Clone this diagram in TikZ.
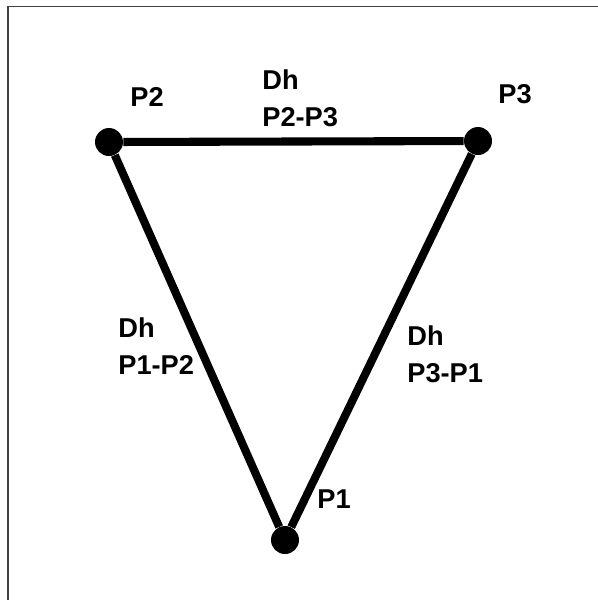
\documentclass[tikz,border=0pt]{standalone}
\usepackage{fontspec}
\setmainfont{Liberation Sans}
\usetikzlibrary{positioning}

\begin{document}
\begin{tikzpicture}[x=0.02cm, y=-0.02cm,
        point/.style={circle, fill=black, inner sep=0pt, minimum size=0.56cm},
        side/.style={line width=4.6pt, black},
        txt_label/.style={font=\fontsize{15.5}{21}\selectfont\bfseries, align=left, inner sep=0pt, anchor=west},
        txt_point/.style={font=\fontsize{15.5}{21}\selectfont\bfseries, inner sep=0pt},
        frame/.style={draw=black!75, line width=0.6pt}
    ]
    \useasboundingbox (0,0) rectangle (598,600);

    % Frame
    \draw[frame] (8,600) -- (8,6.5) -- (598,6.5);

    % Points
    \node[point] (p2) at (109, 142) {};
    \node[point] (p3) at (478, 141) {};
    \node[point] (p1) at (285, 540) {};

    % Sides
    \draw[side] (p2) -- (p3);
    \draw[side] (p3) -- (p1);
    \draw[side] (p1) -- (p2);

    % Point labels
    \node[txt_point] (lab_p2) at (147, 97) {P2};
    \node[txt_point] (lab_p3) at (515, 94) {P3};
    \node[txt_point] (lab_p1) at (334, 499) {P1};

    % Side labels
    \node[txt_label] (dh_23) at (262, 98.5) {Dh\\P2-P3};
    \node[txt_label] (dh_12) at (118, 346.5) {Dh\\P1-P2};
    \node[txt_label] (dh_31) at (407, 354.5) {Dh\\P3-P1};

\end{tikzpicture}
\end{document}
